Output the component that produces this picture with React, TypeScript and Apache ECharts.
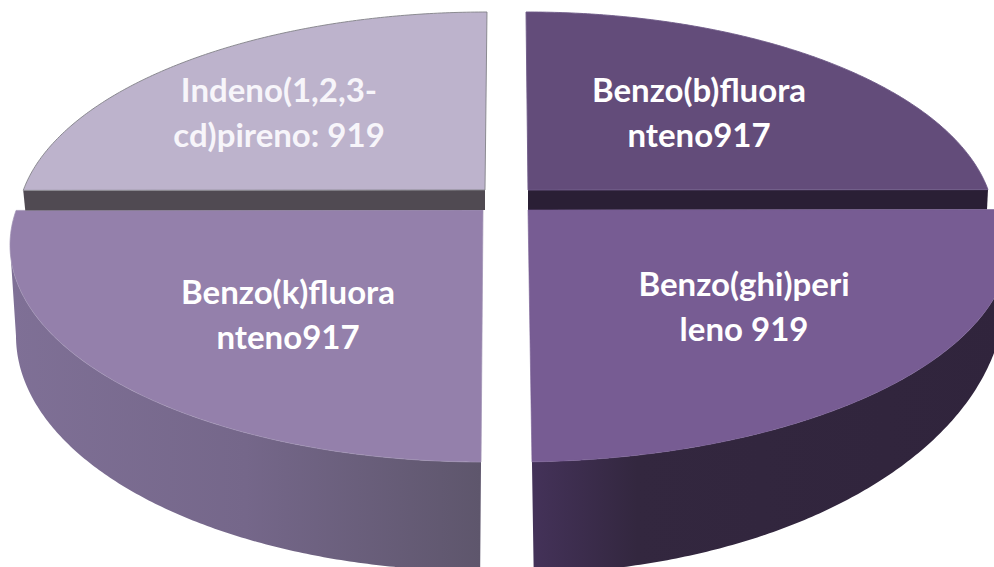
import React, { useEffect, useRef } from "react";
import * as echarts from "echarts";

const sliceNames = ["Benzo(b)fluoranteno", "Benzo(ghi)perileno", "Benzo(k)fluoranteno", "Indeno(1,2,3-cd)pireno"];
const sliceValues = [917, 919, 917, 919];
const labelLines = [
  ["Benzo(b)fluora", "nteno917"],
  ["Benzo(ghi)peri", "leno 919"],
  ["Benzo(k)fluora", "nteno917"],
  ["Indeno(1,2,3-", "cd)pireno: 919"],
];

type Ell = { cx: number; cy: number; rx: number; ry: number };
type Shape = {
  apex: [number, number];
  top: Ell;
  bottom?: Ell;
  tilt: [number, number];
  fill: string;
  stroke: string;
  wall?: string[];
  face?: { fill: string; drop: number; inset: number; ray: 0 | 1 };
  label: [number, number];
  labelFill: string;
};

const shapes: Shape[] = [
  {
    apex: [528, 190],
    top: { cx: 527, cy: 225, rx: 467.5, ry: 213 },
    tilt: [-0.64, 0.05],
    fill: "#634c7a",
    stroke: "rgba(110,90,135,0.9)",
    face: { fill: "#2a1f35", drop: 20, inset: -1, ray: 1 },
    label: [699, 111],
    labelFill: "#ffffff",
  },
  {
    apex: [528, 210],
    top: { cx: 515, cy: 243, rx: 495, ry: 219 },
    bottom: { cx: 515, cy: 294, rx: 490, ry: 280 },
    tilt: [0.05, -0.9],
    fill: "#775c93",
    stroke: "rgba(119,92,147,0.6)",
    wall: ["#443259", "#33273f", "#30243c"],
    label: [744, 305],
    labelFill: "#ffffff",
  },
  {
    apex: [483, 210],
    top: { cx: 483, cy: 245, rx: 473, ry: 217 },
    bottom: { cx: 481, cy: 336, rx: 465, ry: 235 },
    tilt: [0.45, 0.05],
    fill: "#9480ab",
    stroke: "rgba(160,145,180,0.7)",
    wall: ["#7f7096", "#75678a", "#5e566c"],
    label: [288, 313],
    labelFill: "#ffffff",
  },
  {
    apex: [485, 190],
    top: { cx: 487, cy: 225, rx: 470, ry: 213 },
    tilt: [0.05, 0.64],
    fill: "#bdb3cc",
    stroke: "rgba(130,130,135,0.9)",
    face: { fill: "#504a52", drop: 20, inset: 2, ray: 0 },
    label: [279, 111],
    labelFill: "#f7f5fa",
  },
];

const rad = (d: number) => (d * Math.PI) / 180;

function rayParam(a: [number, number], deg: number, e: Ell) {
  const dx = Math.sin(rad(deg));
  const dy = -Math.cos(rad(deg));
  const px = (a[0] - e.cx) / e.rx;
  const py = (a[1] - e.cy) / e.ry;
  const qx = dx / e.rx;
  const qy = dy / e.ry;
  const A = qx * qx + qy * qy;
  const B = 2 * (px * qx + py * qy);
  const C = px * px + py * py - 1;
  const s = (-B + Math.sqrt(B * B - 4 * A * C)) / (2 * A);
  const x = a[0] + s * dx;
  const y = a[1] + s * dy;
  return Math.atan2((y - e.cy) / e.ry, (x - e.cx) / e.rx);
}

function arc(e: Ell, t0: number, t1: number, n = 160): number[][] {
  const pts: number[][] = [];
  for (let i = 0; i <= n; i++) {
    const t = t0 + ((t1 - t0) * i) / n;
    pts.push([e.cx + e.rx * Math.cos(t), e.cy + e.ry * Math.sin(t)]);
  }
  return pts;
}

function sliceRange(idx: number): [number, number] {
  const total = sliceValues.reduce((s, v) => s + v, 0);
  let start = 0;
  for (let i = 0; i < idx; i++) start += sliceValues[i];
  const s0 = (start / total) * 360;
  const s1 = ((start + sliceValues[idx]) / total) * 360;
  return [s0, s1];
}

function renderSlice(params: any) {
  const idx = params.dataIndex;
  const sh = shapes[idx];
  const [d0, d1] = sliceRange(idx);
  const deg0 = d0 + sh.tilt[0];
  const deg1 = d1 + sh.tilt[1];
  const a = rayParam(sh.apex, deg0, sh.top);
  let b = rayParam(sh.apex, deg1, sh.top);
  while (b < a) b += Math.PI * 2;
  const children: any[] = [];

  if (sh.bottom && sh.wall) {
    const la = rayParam(sh.apex, deg0, sh.bottom);
    let lb = rayParam(sh.apex, deg1, sh.bottom);
    while (lb < la) lb += Math.PI * 2;
    const ua = Math.max(a, 0);
    const ub = Math.min(b, Math.PI);
    const lowA = a > 0 ? la : 0;
    const lowB = b < Math.PI ? lb : Math.PI;
    const pts = [...arc(sh.top, ua, ub), ...arc(sh.bottom, lowA, lowB).reverse()];
    children.push({
      type: "polygon",
      shape: { points: pts },
      style: {
        fill: new echarts.graphic.LinearGradient(0, 0, 1, 0, [
          { offset: 0, color: idx === 1 ? sh.wall[0] : sh.wall[0] },
          { offset: idx === 1 ? 0.22 : 0.5, color: sh.wall[1] },
          { offset: 1, color: sh.wall[2] },
        ]),
      },
    });
  }

  const surf = arc(sh.top, a, b);
  if (sh.face) {
    const end = sh.face.ray === 0 ? surf[0] : surf[surf.length - 1];
    children.push({
      type: "polygon",
      shape: {
        points: [
          end,
          sh.apex,
          [sh.apex[0], sh.apex[1] + sh.face.drop],
          [end[0] + sh.face.inset, end[1] + sh.face.drop],
        ],
      },
      style: { fill: sh.face.fill },
    });
  }

  children.push({
    type: "polygon",
    shape: { points: [sh.apex, ...surf] },
    style: { fill: sh.fill, stroke: sh.stroke, lineWidth: 1 },
  });

  children.push({
    type: "text",
    style: {
      text: labelLines[idx].join("\n"),
      x: sh.label[0],
      y: sh.label[1],
      fill: sh.labelFill,
      font: "bold 33px Lato, 'Open Sans', sans-serif",
      lineHeight: 45,
      align: "center",
      verticalAlign: "middle",
    },
  });

  return { type: "group", children };
}

export default function App() {
  const ref = useRef<HTMLDivElement>(null);
  useEffect(() => {
    if (!ref.current) return;
    const chart = echarts.init(ref.current, undefined, { renderer: "svg" });
    chart.setOption({
      animation: false,
      backgroundColor: "#ffffff",
      series: [
        {
          type: "custom",
          coordinateSystem: "none",
          silent: true,
          clip: false,
          renderItem: renderSlice,
          data: sliceValues.map((value, i) => ({ name: sliceNames[i], value })),
        },
      ],
    });
    return () => chart.dispose();
  }, []);
  return (
    <div
      ref={ref}
      style={{ position: "absolute", left: 0, top: 0, width: 994, height: 567, overflow: "hidden" }}
    />
  );
}
